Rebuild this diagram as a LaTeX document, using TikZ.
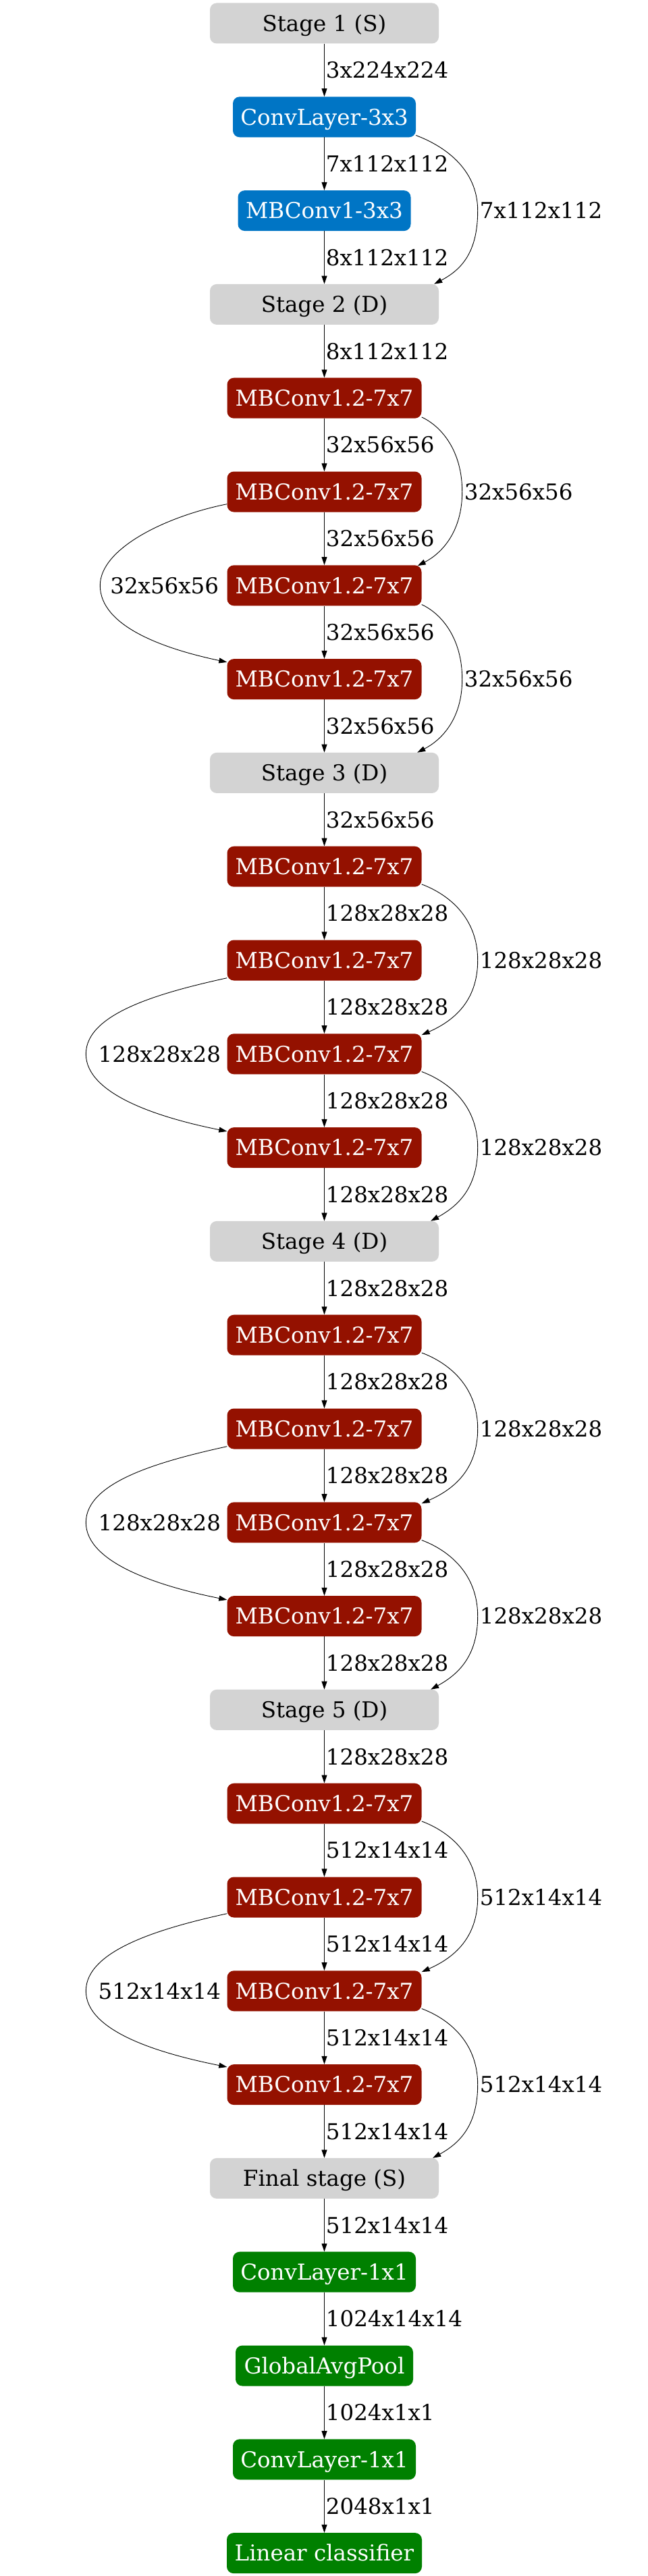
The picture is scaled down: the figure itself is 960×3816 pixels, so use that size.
\documentclass[tikz,border=0pt]{standalone}
\usepackage{fontspec}
\setmainfont{DejaVu Serif}
\usetikzlibrary{arrows.meta}
\definecolor{stagegray}{HTML}{D3D3D3}
\definecolor{convblue}{HTML}{0075C5}
\definecolor{mbred}{HTML}{941100}
\definecolor{headgreen}{HTML}{008000}
\begin{document}
\begin{tikzpicture}[x=1pt,y=-1pt,
  every node/.style={font=\fontsize{32.5}{39}\selectfont},
  box/.style={rectangle, rounded corners=10pt, minimum height=60pt, inner sep=0pt,
              text height=23.7pt, text depth=0pt},
  stagebox/.style={box, fill=stagegray, text=black, minimum width=339pt},
  bluebox/.style={box, fill=convblue, text=white},
  redbox/.style={box, fill=mbred, text=white, minimum width=288pt},
  greenbox/.style={box, fill=headgreen, text=white},
  arr/.style={-{Triangle[length=12pt,width=8pt]}, line width=0.9pt, black},
  elab/.style={anchor=west, inner sep=0pt, text height=23.7pt, text depth=0pt, xshift=2pt},
  rlab/.style={anchor=west, inner sep=0pt, text height=23.7pt, text depth=0pt},
  llab/.style={anchor=east, inner sep=0pt, text height=23.7pt, text depth=0pt},
]
\useasboundingbox (0,0) rectangle (960,3816);

% nodes
\node[stagebox] (n0) at (480.5,34.5) {Stage 1 (S)};
\node[bluebox, minimum width=271pt] (n1) at (480.5,173.3) {ConvLayer-3x3};
\node[bluebox, minimum width=256pt] (n2) at (480.5,312.1) {MBConv1-3x3};
\node[stagebox] (n3) at (480.5,450.9) {Stage 2 (D)};
\node[redbox] (n4) at (480.5,589.7) {MBConv1.2-7x7};
\node[redbox] (n5) at (480.5,728.5) {MBConv1.2-7x7};
\node[redbox] (n6) at (480.5,867.3) {MBConv1.2-7x7};
\node[redbox] (n7) at (480.5,1006.1) {MBConv1.2-7x7};
\node[stagebox] (n8) at (480.5,1144.9) {Stage 3 (D)};
\node[redbox] (n9) at (480.5,1283.7) {MBConv1.2-7x7};
\node[redbox] (n10) at (480.5,1422.5) {MBConv1.2-7x7};
\node[redbox] (n11) at (480.5,1561.3) {MBConv1.2-7x7};
\node[redbox] (n12) at (480.5,1700.1) {MBConv1.2-7x7};
\node[stagebox] (n13) at (480.5,1838.9) {Stage 4 (D)};
\node[redbox] (n14) at (480.5,1977.7) {MBConv1.2-7x7};
\node[redbox] (n15) at (480.5,2116.5) {MBConv1.2-7x7};
\node[redbox] (n16) at (480.5,2255.3) {MBConv1.2-7x7};
\node[redbox] (n17) at (480.5,2394.1) {MBConv1.2-7x7};
\node[stagebox] (n18) at (480.5,2532.9) {Stage 5 (D)};
\node[redbox] (n19) at (480.5,2671.7) {MBConv1.2-7x7};
\node[redbox] (n20) at (480.5,2810.5) {MBConv1.2-7x7};
\node[redbox] (n21) at (480.5,2949.3) {MBConv1.2-7x7};
\node[redbox] (n22) at (480.5,3088.1) {MBConv1.2-7x7};
\node[stagebox] (n23) at (480.5,3226.9) {Final stage (S)};
\node[greenbox, minimum width=271pt] (n24) at (480.5,3365.7) {ConvLayer-1x1};
\node[greenbox, minimum width=263pt] (n25) at (480.5,3504.5) {GlobalAvgPool};
\node[greenbox, minimum width=271pt] (n26) at (480.5,3643.3) {ConvLayer-1x1};
\node[greenbox, minimum width=289pt] (n27) at (480.5,3782.1) {Linear classifier};

% straight edges
\foreach \a/\b/\t in {n0/n1/3x224x224, n1/n2/7x112x112, n2/n3/8x112x112, n3/n4/8x112x112,
  n4/n5/32x56x56, n5/n6/32x56x56, n6/n7/32x56x56, n7/n8/32x56x56, n8/n9/32x56x56,
  n9/n10/128x28x28, n10/n11/128x28x28, n11/n12/128x28x28, n12/n13/128x28x28, n13/n14/128x28x28,
  n14/n15/128x28x28, n15/n16/128x28x28, n16/n17/128x28x28, n17/n18/128x28x28, n18/n19/128x28x28,
  n19/n20/512x14x14, n20/n21/512x14x14, n21/n22/512x14x14, n22/n23/512x14x14, n23/n24/512x14x14,
  n24/n25/1024x14x14, n25/n26/1024x1x1, n26/n27/2048x1x1}
  \draw[arr] (\a) -- node[elab] {\t} (\b);

% skip edge in stage 1
\draw[arr] ([yshift=3pt]n1.south east) .. controls +(40,15) and +(0,-63) .. ([xshift=99pt]n2.east)
  .. controls +(0,60) and +(42,-22) .. ([xshift=-7pt]n3.north east);
\node[rlab] at ([xshift=102pt]n2.east) {7x112x112};

% stage 2 block (32x56x56)
\draw[arr] ([yshift=2pt]n4.south east) .. controls +(30,14) and +(0,-60) .. ([xshift=60pt]n5.east)
  .. controls +(0,60) and +(35,-18) .. ([xshift=-6pt,yshift=-1pt]n6.north east);
\node[rlab] at ([xshift=63pt]n5.east) {32x56x56};
\draw[arr] ([yshift=2pt]n6.south east) .. controls +(30,14) and +(0,-60) .. ([xshift=60pt]n7.east)
  .. controls +(0,60) and +(35,-18) .. ([xshift=-32pt]n8.north east);
\node[rlab] at ([xshift=63pt]n7.east) {32x56x56};
\draw[arr] ([yshift=12pt]n5.south west) .. controls +(-90,18) and +(0,-55) .. ([xshift=-188pt]n6.west)
  .. controls +(0,60) and +(-95,-20) .. ([yshift=-5pt]n7.north west);
\node[llab] at ([xshift=-12pt]n6.west) {32x56x56};

% stage 3 block (128x28x28)
\draw[arr] ([yshift=4pt]n9.south east) .. controls +(40,15) and +(0,-63) .. ([xshift=83pt]n10.east)
  .. controls +(0,60) and +(48,-21) .. ([yshift=-2pt]n11.north east);
\node[rlab] at ([xshift=86pt]n10.east) {128x28x28};
\draw[arr] ([yshift=4pt]n11.south east) .. controls +(40,15) and +(0,-63) .. ([xshift=83pt]n12.east)
  .. controls +(0,60) and +(40,-22) .. ([xshift=-12pt]n13.north east);
\node[rlab] at ([xshift=86pt]n12.east) {128x28x28};
\draw[arr] ([yshift=4pt]n10.south west) .. controls +(-100,22) and +(0,-60) .. ([xshift=-209pt]n11.west)
  .. controls +(0,60) and +(-100,-20) .. ([yshift=-6pt]n12.north west);
\node[llab] at ([xshift=-9pt]n11.west) {128x28x28};

% stage 4 block (128x28x28)
\draw[arr] ([yshift=4pt]n14.south east) .. controls +(40,15) and +(0,-63) .. ([xshift=83pt]n15.east)
  .. controls +(0,60) and +(48,-21) .. ([yshift=-2pt]n16.north east);
\node[rlab] at ([xshift=86pt]n15.east) {128x28x28};
\draw[arr] ([yshift=4pt]n16.south east) .. controls +(40,15) and +(0,-63) .. ([xshift=83pt]n17.east)
  .. controls +(0,60) and +(40,-22) .. ([xshift=-12pt]n18.north east);
\node[rlab] at ([xshift=86pt]n17.east) {128x28x28};
\draw[arr] ([yshift=4pt]n15.south west) .. controls +(-100,22) and +(0,-60) .. ([xshift=-209pt]n16.west)
  .. controls +(0,60) and +(-100,-20) .. ([yshift=-6pt]n17.north west);
\node[llab] at ([xshift=-9pt]n16.west) {128x28x28};

% stage 5 block (512x14x14)
\draw[arr] ([yshift=4pt]n19.south east) .. controls +(40,15) and +(0,-63) .. ([xshift=83pt]n20.east)
  .. controls +(0,60) and +(48,-21) .. ([yshift=-2pt]n21.north east);
\node[rlab] at ([xshift=86pt]n20.east) {512x14x14};
\draw[arr] ([yshift=4pt]n21.south east) .. controls +(40,15) and +(0,-63) .. ([xshift=83pt]n22.east)
  .. controls +(0,60) and +(40,-22) .. ([xshift=-9pt]n23.north east);
\node[rlab] at ([xshift=86pt]n22.east) {512x14x14};
\draw[arr] ([yshift=6pt]n20.south west) .. controls +(-100,22) and +(0,-60) .. ([xshift=-209pt]n21.west)
  .. controls +(0,60) and +(-100,-20) .. ([yshift=-4pt]n22.north west);
\node[llab] at ([xshift=-9pt]n21.west) {512x14x14};
\end{tikzpicture}
\end{document}
